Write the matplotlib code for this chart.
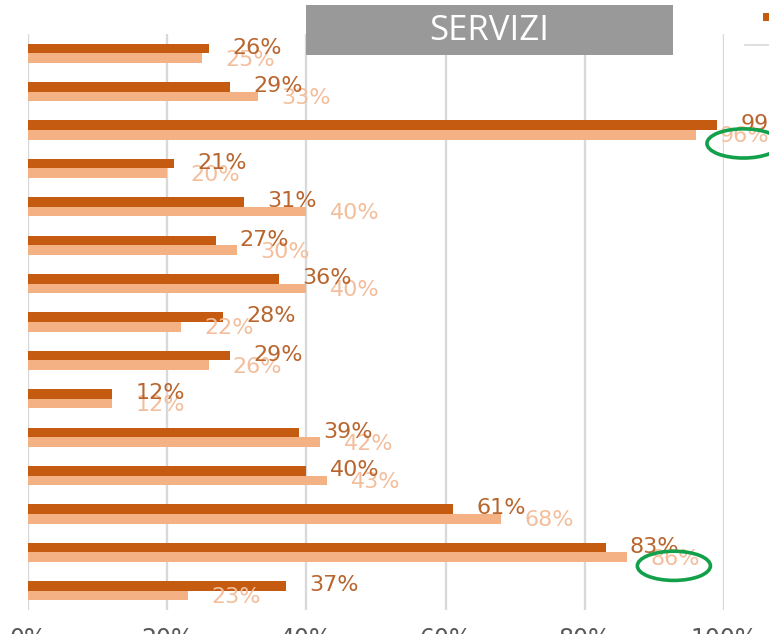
import numpy as np
import matplotlib
matplotlib.use('Agg')
import matplotlib.pyplot as plt
import matplotlib.patches as patches
from matplotlib.lines import Line2D

# Values (percent), top to bottom
dark_values = [26, 29, 99, 21, 31, 27, 36, 28, 29, 12, 39, 40, 61, 83, 37]
light_values = [25, 33, 96, 20, 40, 30, 40, 22, 26, 12, 42, 43, 68, 86, 23]
x_ticks = [0, 20, 40, 60, 80, 100]
x_tick_labels = ['0%', '20%', '40%', '60%', '80%', '100%']
highlighted = [2, 13]  # rows whose light label is circled in green
title = 'SERVIZI'

DARK = '#C55A11'
LIGHT = '#F4B183'
DARK_TXT = '#B8652E'
LIGHT_TXT = '#F3BE9C'
GRID = '#D9D9D9'
GREEN = '#13A04A'

W, H = 769, 634
fig = plt.figure(figsize=(W / 100, H / 100), dpi=100)

# axes placed in pixel terms
left, right, top, bottom = 28, 724, 34, 610
ax = fig.add_axes([left / W, (H - bottom) / H, (right - left) / W, (bottom - top) / H])

n = len(dark_values)
y = np.arange(n)
bh = 0.25
ax.barh(y - bh / 2, dark_values, height=bh, color=DARK, zorder=3)
ax.barh(y + bh / 2, light_values, height=bh, color=LIGHT, zorder=3)

off = 3.4
for i in range(n):
    ax.text(dark_values[i] + off, y[i] - bh / 2 - 0.02, f'{dark_values[i]}%',
            ha='left', va='center', fontsize=16, color=DARK_TXT,
            clip_on=False, zorder=5)
    ax.text(light_values[i] + off, y[i] + bh / 2 + 0.04, f'{light_values[i]}%',
            ha='left', va='center', fontsize=16, color=LIGHT_TXT,
            clip_on=False, zorder=4)

# green circles around the highlighted labels
for i in highlighted:
    cx = light_values[i] + off + 3.4
    ell = patches.Ellipse((cx, y[i] + 0.35), width=10.5, height=0.76,
                          fill=False, edgecolor=GREEN, linewidth=2.6,
                          clip_on=False, zorder=6)
    ax.add_patch(ell)

ax.set_xlim(0, 100)
ax.set_ylim(n - 0.5, -0.5)
ax.set_xticks(x_ticks)
ax.set_xticklabels(x_tick_labels)
ax.set_yticks([])
ax.tick_params(axis='x', length=0, pad=12, labelsize=17, labelcolor='#595959')
ax.grid(axis='x', color=GRID, linewidth=1.7, zorder=0)
ax.set_axisbelow(True)
for s in ax.spines.values():
    s.set_visible(False)

# title box
box = patches.Rectangle((306 / W, (H - 55) / H), 367 / W, 50 / H,
                        transform=fig.transFigure, facecolor='#999999',
                        edgecolor='none', zorder=10)
fig.patches.append(box)
fig.text(489.5 / W, (H - 31) / H, title, ha='center', va='center',
         color='white', fontsize=25, family='Open Sans', zorder=11)

# cropped legend stub at top right
fig.patches.append(patches.Rectangle((763 / W, (H - 21) / H), 6 / W, 8 / H,
                                     transform=fig.transFigure,
                                     facecolor=DARK, edgecolor='none'))
fig.lines.append(Line2D([745 / W, 1], [(H - 45) / H] * 2,
                        transform=fig.transFigure, color=GRID, linewidth=1.2))

fig.savefig('out.png', dpi=100)
